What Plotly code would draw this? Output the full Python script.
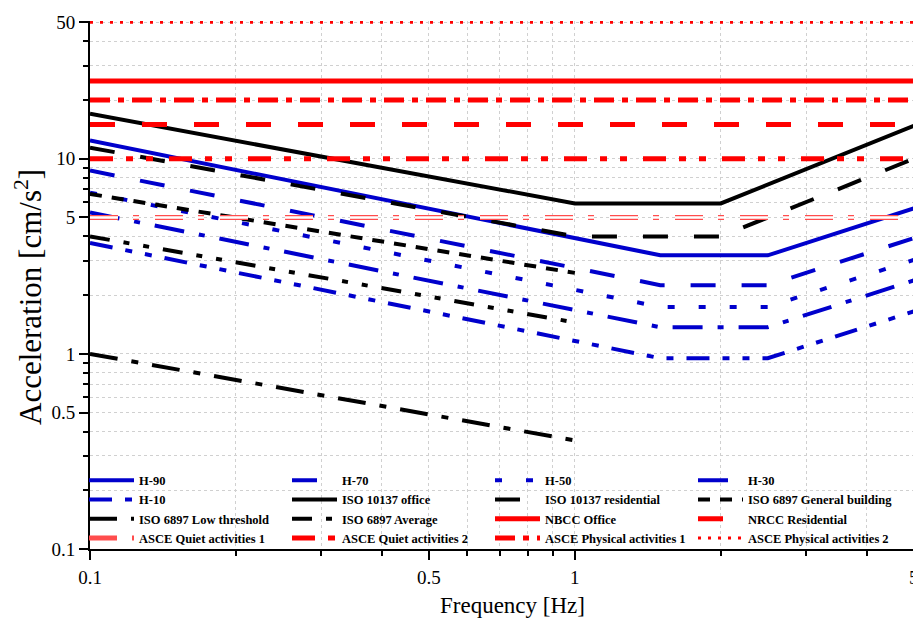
import math
import plotly.graph_objects as go

# ---------------- data ----------------
freq_h = [0.1, 1.5, 2.5, 5]
h90 = [12.4, 3.2, 3.2, 5.57]
h70 = [8.7, 2.25, 2.25, 3.92]
h50 = [6.7, 1.74, 1.74, 3.03]
h30 = [5.3, 1.37, 1.37, 2.38]
h10 = [3.7, 0.95, 0.95, 1.65]

freq_iso10137 = [0.1, 1, 2, 5]
iso10137_office = [17.0, 5.9, 5.9, 14.75]
iso10137_resid = [11.4, 4.0, 4.0, 10.0]

freq_iso6897 = [0.1, 1]
iso6897_general = [6.6, 2.6]
iso6897_low = [1.0, 0.36]
iso6897_avg = [4.0, 1.45]

freq_flat = [0.1, 5]
nbcc_office = 25
nrcc_resid = 15
asce_quiet1 = 5
asce_quiet2 = 10
asce_phys1 = 20
asce_phys2 = 50

x_ticks = [0.1, 0.5, 1, 5]
y_ticks = [0.1, 0.5, 1, 5, 10, 50]
x_minor = [0.2, 0.3, 0.4, 0.6, 0.7, 0.8, 0.9, 2, 3, 4]
y_minor = [0.2, 0.3, 0.4, 0.6, 0.7, 0.8, 0.9, 2, 3, 4, 6, 7, 8, 9, 20, 30, 40]

x_title = "Frequency [Hz]"
y_title = "Acceleration [cm/s<sup>2</sup>]"

BLUE = "#0000cc"
RED = "#ff0000"
BLACK = "#000000"

fig = go.Figure()

def add(name, x, y, color, width, dash, showlegend=True):
    fig.add_trace(go.Scatter(x=x, y=y, mode="lines", name=name,
                             line=dict(color=color, width=width, dash=dash),
                             showlegend=showlegend, hoverinfo="skip"))

add("H-90", freq_h, h90, BLUE, 4, "solid")
add("H-70", freq_h, h70, BLUE, 4, "25px,26px")
add("H-50", freq_h, h50, BLUE, 4, "7px,24px")
add("H-30", freq_h, h30, BLUE, 4, "30px,15px,6px,15px")
add("H-10", freq_h, h10, BLUE, 4, "23px,13px,7px,13px,7px,13px")
add("ISO 10137 office", freq_iso10137, iso10137_office, BLACK, 4, "solid")
add("ISO 10137 residential", freq_iso10137, iso10137_resid, BLACK, 4, "25px,26px")
add("ISO 6897 General building", freq_iso6897, iso6897_general, BLACK, 4, "12px,10px")
add("ISO 6897 Low threshold", freq_iso6897, iso6897_low, BLACK, 4, "28px,14px,7px,14px")
add("ISO 6897 Average", freq_iso6897, iso6897_avg, BLACK, 4, "20px,14px,6px,14px,6px,14px")
add("NBCC Office", freq_flat, [nbcc_office] * 2, RED, 5, "solid")
add("NRCC Residential", freq_flat, [nrcc_resid] * 2, RED, 5, "25px,27px")
add("ASCE Quiet activities 1", freq_flat, [asce_quiet1] * 2, "#ff4d4d", 5, "28px,15px,6px,16px")
add("ASCE Quiet activities 1 inner", freq_flat, [asce_quiet1] * 2, "#ffffff", 2.5,
    "28px,15px,6px,16px", showlegend=False)
add("ASCE Quiet activities 2", freq_flat, [asce_quiet2] * 2, RED, 5, "23px,13px,7px,13px,7px,16px")
add("ASCE Physical activities 1", freq_flat, [asce_phys1] * 2, RED, 5, "20px,8px,6px,8px")
add("ASCE Physical activities 2", freq_flat, [asce_phys2] * 2, RED, 3, "3px,7px")

SERIF = "Liberation Serif, Times New Roman, serif"
grid_color = "#d0d0d0"

# The page body keeps its default 8px margin, so the figure is 8px smaller
# than the window and everything is laid out 8px up/left.
W, H = 913, 621
ML, MR, MT, MB = 82, 7, 13, 80
PW, PH = W - ML - MR, H - MT - MB

def px_to_paper(fx, fy):
    return (fx - ML) / PW, (H - MB - fy) / PH

xt_x, xt_y = px_to_paper(504, 597)
yt_x, yt_y = px_to_paper(20, 289)

fig.update_layout(
    width=W, height=H,
    margin=dict(l=ML, r=MR, t=MT, b=MB, autoexpand=False),
    paper_bgcolor="white", plot_bgcolor="white",
    font=dict(family=SERIF, color="black"),
    legend=dict(orientation="h", xref="container", x=76 / W, xanchor="left",
                y=0.158, yanchor="top",
                entrywidth=143, entrywidthmode="pixels", itemwidth=45,
                bgcolor="rgba(0,0,0,0)",
                font=dict(family=SERIF, size=12.5, color="black", weight="bold"),
                traceorder="normal"),
    showlegend=True,
    annotations=[
        dict(text=x_title, xref="paper", yref="paper",
             x=xt_x, y=xt_y, xanchor="center", yanchor="middle",
             showarrow=False, font=dict(family=SERIF, size=23, color="black")),
        dict(text=y_title, xref="paper", yref="paper",
             x=yt_x, y=yt_y, xanchor="center", yanchor="middle",
             textangle=-90, showarrow=False,
             font=dict(family=SERIF, size=31, color="black")),
    ],
)

fig.update_xaxes(
    type="log", range=[-1, math.log10(5) + 0.0005], automargin=False,
    tickvals=x_ticks, ticktext=[str(v) for v in x_ticks],
    ticks="outside", ticklen=9, tickwidth=2, tickcolor="black",
    ticklabeloverflow="allow", ticklabelstandoff=1,
    showline=True, linecolor="black", linewidth=2,
    showgrid=True, gridcolor=grid_color, griddash="dot", gridwidth=1,
    tickfont=dict(family=SERIF, size=19),
    minor=dict(tickvals=x_minor, ticks="outside", ticklen=5, tickwidth=2, tickcolor="black",
               showgrid=True, gridcolor=grid_color, griddash="dot", gridwidth=1),
    zeroline=False,
)
fig.update_yaxes(
    type="log", range=[-1, math.log10(50.8)], automargin=False,
    tickvals=y_ticks, ticktext=[str(v) for v in y_ticks],
    ticks="outside", ticklen=9, tickwidth=2, tickcolor="black",
    showline=True, linecolor="black", linewidth=2,
    showgrid=True, gridcolor=grid_color, griddash="dot", gridwidth=1,
    tickfont=dict(family=SERIF, size=19),
    minor=dict(tickvals=y_minor, ticks="outside", ticklen=5, tickwidth=2, tickcolor="black",
               showgrid=True, gridcolor=grid_color, griddash="dot", gridwidth=1),
    zeroline=False,
)

fig.write_html(
    "out.html",
    config={"displayModeBar": False, "responsive": False},
    post_script="document.documentElement.style.overflow='hidden';"
                "document.body.style.overflow='hidden';",
)
